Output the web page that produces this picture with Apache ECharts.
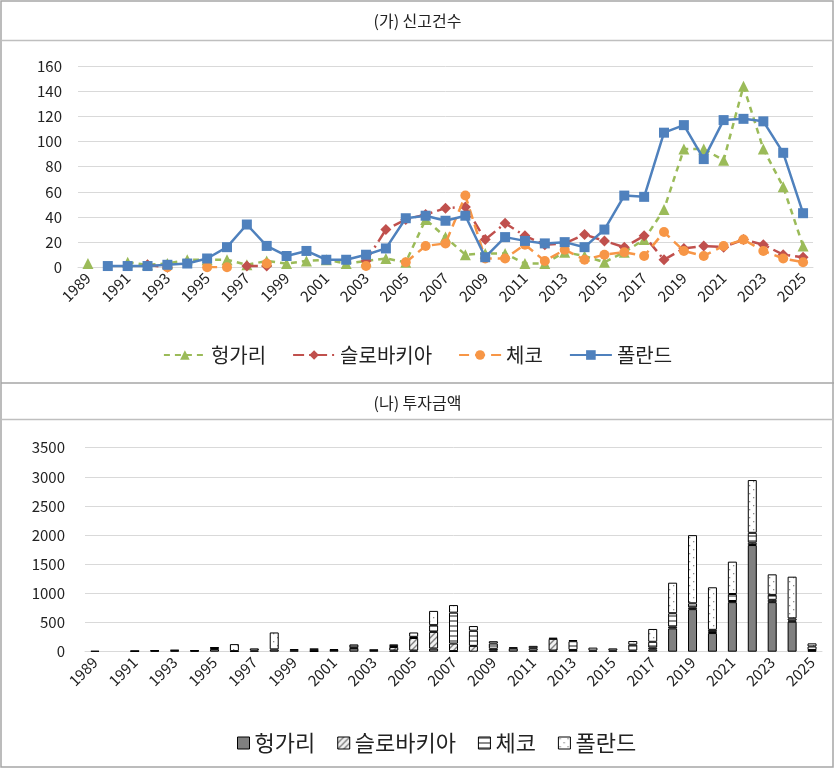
<!DOCTYPE html>
<html><head><meta charset="utf-8">
<script src="https://cdn.jsdelivr.net/npm/echarts@6/dist/echarts.min.js"></script>
<style>html,body{margin:0;padding:0;background:#fff}#c{width:835px;height:769px}</style>
</head><body><div id="c"></div>
<script>
const years = ['1989','1990','1991','1992','1993','1994','1995','1996','1997','1998','1999','2000','2001','2002','2003','2004','2005','2006','2007','2008','2009','2010','2011','2012','2013','2014','2015','2016','2017','2018','2019','2020','2021','2022','2023','2024','2025'];
const seriesNames = ['헝가리','슬로바키아','체코','폴란드'];
const titleTop = '(가) 신고건수';
const titleBottom = '(나) 투자금액';

// (가) 신고건수
const hungaryCount  = [3,null,4,2,3,6,6,6,2,5,3,5,6,3,5,7,4,38,24,10,11,11,3,3,12,9,4,12,22,46,94,94,85,144,94,64,17];
const slovakiaCount = [null,null,null,2,0,null,null,null,1,1,null,null,null,null,5,30,38,42,47,48,22,35,25,18,19,26,21,16,25,6,15,17,16,22,18,10,8];
const czechCount    = [null,null,null,null,0,null,0,0,null,3,null,null,null,null,1,null,4,17,19,57,7,7,18,5,14,6,10,12,9,28,13,9,17,22,13,7,4];
const polandCount   = [null,1,1,1,2,3,7,16,34,17,9,13,6,6,10,15,39,41,37,41,8,24,21,19,20,16,30,57,56,107,113,86,117,118,116,91,43];

// (나) 투자금액
const hungaryInvest  = [15,null,10,15,20,15,45,10,null,40,null,10,30,60,25,20,20,55,10,null,20,60,20,20,30,20,20,20,40,400,730,320,850,1830,850,515,20];
const slovakiaInvest = [null,null,null,null,null,null,null,null,null,null,null,null,null,10,null,60,215,285,130,100,30,null,null,200,null,null,null,null,30,30,30,20,20,40,40,20,10];
const czechInvest    = [null,null,null,null,null,10,20,null,20,null,25,30,15,55,10,20,20,115,530,260,90,15,40,20,150,50,37,100,100,230,70,35,120,170,85,37,60];
const polandInvest   = [null,null,5,10,10,null,10,120,37,290,20,10,null,null,null,25,75,245,130,80,40,null,40,null,20,null,null,63,220,524,1170,730,555,905,352,715,53];

const FONT = '"Noto Sans CJK KR", "Noto Sans", sans-serif';

function pattern(kind){
  const c = document.createElement('canvas');
  const s = kind==='dots' ? 8 : (kind==='hatch' ? 6 : 5);
  c.width = s; c.height = s;
  const g = c.getContext('2d');
  g.fillStyle = kind==='hatch' ? '#f0f0f0' : '#ffffff';
  g.fillRect(0,0,s,s);
  g.strokeStyle = '#7f7f7f'; g.fillStyle = '#8c8c8c';
  if (kind==='hatch'){
    g.lineWidth = 1.4;
    g.beginPath(); g.moveTo(0,s); g.lineTo(s,0); g.moveTo(-1,1); g.lineTo(1,-1); g.moveTo(s-1,s+1); g.lineTo(s+1,s-1); g.stroke();
  } else if (kind==='stripes'){
    g.fillStyle = '#8c8c8c'; g.fillRect(0,0,s,2);
  } else {
    g.fillRect(1,1,1.3,1.3); g.fillRect(5,5,1.3,1.3);
  }
  return {image: c, repeat: 'repeat'};
}

const lineColors = ['#9BBB59','#C0504D','#F79646','#4F81BD'];
const lineSeries = [
  {name: seriesNames[0], data: hungaryCount, symbol:'triangle', symbolSize:11, lineStyle:{type:[6,5], width:2.5}},
  {name: seriesNames[1], data: slovakiaCount, symbol:'diamond', symbolSize:11, lineStyle:{type:[11,5,2,5], width:2.5}},
  {name: seriesNames[2], data: czechCount, symbol:'circle', symbolSize:10, lineStyle:{type:[10,6], width:2.5}},
  {name: seriesNames[3], data: polandCount, symbol:'rect', symbolSize:10, lineStyle:{type:'solid', width:2.5}}
].map((s,i)=>Object.assign(s,{type:'line', xAxisIndex:0, yAxisIndex:0, color: lineColors[i], itemStyle:{color: lineColors[i]}, lineStyle:Object.assign(s.lineStyle,{color: lineColors[i]}), showSymbol:true, z: 2+i, animation:false}));

const fills = ['#808080', pattern('hatch'), pattern('stripes'), pattern('dots')];
const investData = [hungaryInvest, slovakiaInvest, czechInvest, polandInvest];
const barSeries = seriesNames.map((n,i)=>({
  name: n + ' ', type:'bar', stack:'inv', xAxisIndex:1, yAxisIndex:1, data: investData[i], barWidth: 9,
  itemStyle:{color: fills[i], borderColor:'#000', borderWidth:1}, animation:false
}));

const axisLabelStyle = {color:'#222', fontSize:15, fontFamily: FONT};
const chart = echarts.init(document.getElementById('c'), null, {renderer:'canvas'});
chart.setOption({
  backgroundColor:'#fff',
  title:[
    {text: titleTop, left:'center', top:8, textStyle:{fontSize:16, fontWeight:'normal', color:'#222', fontFamily: FONT}},
    {text: titleBottom, left:'center', top:390, textStyle:{fontSize:16, fontWeight:'normal', color:'#222', fontFamily: FONT}}
  ],
  legend:[
    {data: seriesNames, top:340, left:'center', itemWidth:42, itemHeight:12, itemGap:26, textStyle:{fontSize:20, color:'#222', fontFamily: FONT}},
    {data: seriesNames.map(n=>n+' '), top:727, left:232, icon:'rect', itemWidth:12, itemHeight:12, itemGap:22, itemStyle:{borderColor:'#000', borderWidth:1}, textStyle:{fontSize:22, color:'#222', fontFamily: FONT},
     formatter: n=>n.trim()}
  ],
  grid:[
    {left:78, right:22, top:66, height:201.3},
    {left:85, right:13, top:447.7, height:204}
  ],
  xAxis:[
    {type:'category', gridIndex:0, data: years, boundaryGap:true, axisTick:{show:false}, axisLine:{lineStyle:{color:'#D9D9D9'}},
     axisLabel:Object.assign({interval:1, rotate:45, margin:8}, axisLabelStyle)},
    {type:'category', gridIndex:1, data: years, boundaryGap:true, axisTick:{show:false}, axisLine:{lineStyle:{color:'#D9D9D9'}},
     axisLabel:Object.assign({interval:1, rotate:45, margin:8}, axisLabelStyle)}
  ],
  yAxis:[
    {type:'value', gridIndex:0, min:0, max:160, interval:20, axisLine:{show:false}, axisTick:{show:false}, splitLine:{lineStyle:{color:'#D9D9D9'}},
     axisLabel:Object.assign({margin:16, formatter: v=>String(v)}, axisLabelStyle)},
    {type:'value', gridIndex:1, min:0, max:3500, interval:500, axisLine:{show:false}, axisTick:{show:false}, splitLine:{lineStyle:{color:'#D9D9D9'}},
     axisLabel:Object.assign({margin:20, formatter: v=>String(v)}, axisLabelStyle)}
  ],
  series: lineSeries.concat(barSeries),
  graphic:[
    {type:'rect', shape:{x:1, y:1, width:832, height:766}, style:{fill:null, stroke:'#A6A6A6', lineWidth:1.5}, silent:true},
    {type:'line', shape:{x1:1, y1:40.5, x2:834, y2:40.5}, style:{stroke:'#BFBFBF', lineWidth:1.5}, silent:true},
    {type:'line', shape:{x1:1, y1:383, x2:834, y2:383}, style:{stroke:'#A6A6A6', lineWidth:1.5}, silent:true},
    {type:'line', shape:{x1:1, y1:419.5, x2:834, y2:419.5}, style:{stroke:'#BFBFBF', lineWidth:1.5}, silent:true}
  ]
});
</script></body></html>
